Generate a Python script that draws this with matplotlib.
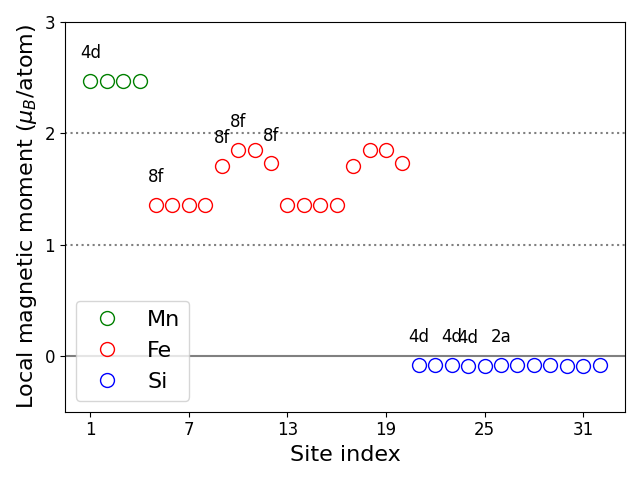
import matplotlib
matplotlib.use("Agg")
import matplotlib.pyplot as plt

# Local moments per site
mn_sites = [1, 2, 3, 4]
mn_moments = [2.47, 2.47, 2.47, 2.47]

fe_sites = list(range(5, 21))
fe_moments = [1.36, 1.36, 1.36, 1.36, 1.71, 1.85, 1.85, 1.73,
              1.36, 1.36, 1.36, 1.36, 1.71, 1.85, 1.85, 1.73]

si_sites = list(range(21, 33))
si_moments = [-0.08, -0.08, -0.08, -0.09, -0.09, -0.08,
              -0.08, -0.08, -0.08, -0.09, -0.09, -0.08]

# Wyckoff labels: (site, label)
wyckoff_labels = [(1, "4d"), (5, "8f"), (9, "8f"), (10, "8f"), (12, "8f"),
                  (21, "4d"), (23, "4d"), (24, "4d"), (26, "2a")]

all_sites = mn_sites + fe_sites + si_sites
all_moments = mn_moments + fe_moments + si_moments
moment_of = dict(zip(all_sites, all_moments))

fig, ax = plt.subplots(figsize=(6.4, 4.8), dpi=100)

ax.axhline(0.0, color="gray", lw=1.5)
ax.axhline(1.0, color="gray", lw=1.5, ls=":")
ax.axhline(2.0, color="gray", lw=1.5, ls=":")

ax.plot(mn_sites, mn_moments, "o", ms=10, mfc="none", mec="green", label="Mn")
ax.plot(fe_sites, fe_moments, "o", ms=10, mfc="none", mec="red", label="Fe")
ax.plot(si_sites, si_moments, "o", ms=10, mfc="none", mec="blue", label="Si")

for site, lab in wyckoff_labels:
    ax.text(site, moment_of[site] + 0.25, lab, ha="center", va="center", fontsize=12)

ax.set_ylim(-0.5, 3.0)
ax.set_yticks([0, 1, 2, 3])
ax.set_xticks([1, 7, 13, 19, 25, 31])
ax.tick_params(labelsize=12)
ax.set_xlabel("Site index", fontsize=16)
ax.set_ylabel(r"Local magnetic moment ($\mu_B$/atom)", fontsize=16)
ax.legend(loc="lower left", fontsize=16)
fig.tight_layout()
fig.savefig("out.png")
